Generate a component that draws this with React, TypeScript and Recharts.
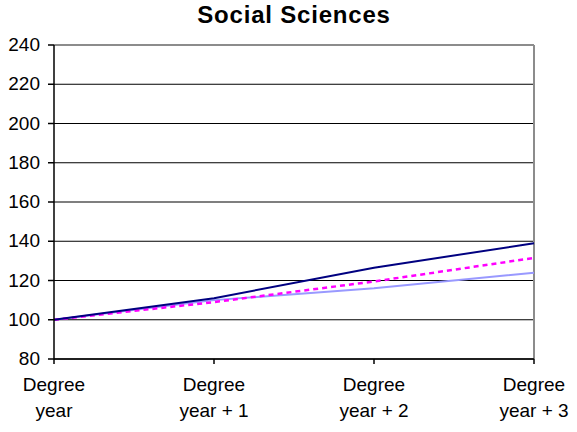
import React from 'react';
import { LineChart, Line, XAxis, YAxis, CartesianGrid, ReferenceLine } from 'recharts';

const categories = ['Degree year', 'Degree year + 1', 'Degree year + 2', 'Degree year + 3'];
const navySeries = [100, 111, 126.5, 139];
const magentaSeries = [100, 109, 119.5, 131.5];
const lightBlueSeries = [100, 110, 116, 124];
const yTicks = [80, 100, 120, 140, 160, 180, 200, 220, 240];

const data = categories.map((name, i) => ({
  name,
  navy: navySeries[i],
  magenta: magentaSeries[i],
  lightBlue: lightBlueSeries[i],
}));

const FONT = '"Liberation Sans", Arial, sans-serif';

const XTick: React.FC<any> = ({ x, y, payload }) => {
  const label: string = payload.value;
  const first = 'Degree';
  const second = label.replace('Degree ', '');
  return (
    <text x={x} y={y} textAnchor="middle" fontFamily={FONT} fontSize={19} fill="#000">
      <tspan x={x} dy={25}>{first}</tspan>
      <tspan x={x} dy={26}>{second}</tspan>
    </text>
  );
};

const YTick: React.FC<any> = ({ x, y, payload }) => (
  <text x={x - 6} y={y} dy={6} textAnchor="end" fontFamily={FONT} fontSize={19} fill="#000">
    {payload.value}
  </text>
);

export default function App() {
  return (
    <div style={{ position: 'absolute', left: 0, top: 0, width: 577, height: 432, background: '#fff' }}>
      <div
        style={{
          position: 'absolute',
          left: 54,
          width: 480,
          top: 1,
          textAlign: 'center',
          fontFamily: FONT,
          fontWeight: 'bold',
          fontSize: 24,
          letterSpacing: 0.8,
        }}
      >
        Social Sciences
      </div>
      <LineChart width={577} height={432} data={data} margin={{ top: 45, right: 43, left: 4, bottom: 13 }}>
        <CartesianGrid vertical={false} stroke="#000" strokeWidth={1.2} />
        <XAxis
          dataKey="name"
          height={60}
          interval={0}
          tick={<XTick />}
          tickSize={5}
          axisLine={{ stroke: '#000', strokeWidth: 1.5 }}
          tickLine={{ stroke: '#000', strokeWidth: 1.5 }}
        />
        <YAxis
          width={50}
          domain={[80, 240]}
          ticks={yTicks}
          tickSize={6}
          tick={<YTick />}
          axisLine={{ stroke: '#000', strokeWidth: 1.5 }}
          tickLine={{ stroke: '#000', strokeWidth: 1.5 }}
        />
        <ReferenceLine y={240} stroke="#8c8c8c" strokeWidth={2} />
        <ReferenceLine x={categories[categories.length - 1]} stroke="#8c8c8c" strokeWidth={2} />
        <Line type="linear" dataKey="lightBlue" stroke="#9999ff" strokeWidth={2} dot={false} isAnimationActive={false} />
        <Line type="linear" dataKey="magenta" stroke="#ff00ff" strokeWidth={2.5} strokeDasharray="5 4" dot={false} isAnimationActive={false} />
        <Line type="linear" dataKey="navy" stroke="#000080" strokeWidth={2} dot={false} isAnimationActive={false} />
      </LineChart>
    </div>
  );
}
